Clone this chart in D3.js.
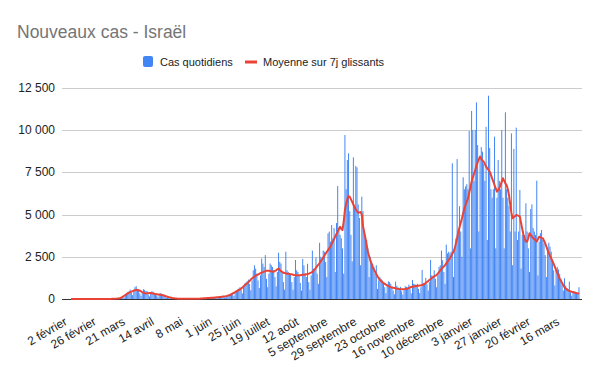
<!DOCTYPE html>
<html>
<head>
<meta charset="utf-8">
<script src="https://cdn.jsdelivr.net/npm/d3@7/dist/d3.min.js"></script>
<style>
    body { margin: 0; background: #fff; }
    #chart text { font-family: 'Liberation Sans', Arial, sans-serif; }
</style>
</head>
<body>
<div id="chart"></div>
<script>
// Nouveaux cas - Israël : cas quotidiens + moyenne sur 7 jours

// premier jour de la série (un point par jour)
const startDay = '2020-02-02';

// cas quotidiens, une ligne par semaine
const dailyCases = [
    0, 0, 0, 0, 0, 0, 0,
    0, 0, 0, 0, 0, 0, 0,
    0, 0, 0, 0, 0, 1, 0,
    0, 1, 0, 2, 1, 0, 3,
    3, 2, 1, 5, 6, 7, 8,
    10, 8, 6, 25, 40, 60, 80,
    130, 120, 90, 250, 330, 420, 450,
    560, 380, 230, 470, 700, 760, 600,
    560, 330, 190, 380, 580, 540, 470,
    470, 260, 150, 300, 460, 430, 360,
    330, 210, 120, 240, 340, 320, 290,
    220, 140, 70, 120, 160, 130, 110,
    70, 40, 20, 30, 35, 28, 22,
    18, 12, 6, 14, 20, 18, 17,
    20, 14, 8, 15, 22, 20, 20,
    28, 20, 12, 28, 40, 45, 50,
    60, 45, 30, 60, 85, 90, 95,
    110, 80, 50, 100, 140, 150, 145,
    170, 130, 80, 170, 230, 250, 270,
    330, 300, 180, 380, 500, 560, 620,
    700, 560, 330, 700, 920, 980, 1050,
    1150, 900, 520, 1100, 1700, 2000, 1800,
    1500, 1100, 650, 1400, 2400, 2100, 1900,
    2600, 1200, 700, 1500, 2100, 2000, 1900,
    1700, 1300, 750, 1600, 2740, 2200, 2100,
    1600, 1000, 550, 2800, 1700, 1600, 1500,
    1500, 1000, 550, 1300, 2310, 1700, 1600,
    1400, 950, 500, 2370, 1990, 1500, 1300,
    2090, 1000, 550, 1400, 2870, 1800, 1700,
    2460, 1500, 900, 3330, 2500, 2400, 2870,
    2800, 2200, 1300, 3890, 3990, 3400, 4380,
    3600, 4200, 1600, 4500, 6690, 4100, 3800,
    3600, 3000, 1500, 9716, 6500, 8230, 8630,
    5200, 3800, 2230, 8390, 5500, 7880, 7800,
    5600, 4800, 2000, 6060, 5200, 4000, 3690,
    3500, 3010, 1300, 2500, 2230, 2100, 1900,
    1500, 2000, 600, 1100, 1300, 1200, 1100,
    1000, 700, 350, 810, 1050, 1000, 900,
    750, 500, 280, 1030, 780, 700, 650,
    720, 460, 260, 530, 760, 720, 680,
    850, 580, 330, 1130, 900, 880, 820,
    900, 600, 350, 700, 1720, 950, 900,
    1250, 880, 500, 1000, 2310, 1400, 1300,
    1700, 1200, 700, 1400, 1900, 2000, 2870,
    2300, 1600, 900, 3220, 2700, 2800, 2700,
    2800, 8040, 1300, 3000, 3600, 8290, 3800,
    5500, 4000, 2500, 7210, 6500, 6670, 6800,
    6500, 9950, 3000, 11140, 10010, 7000, 10010,
    11650, 9120, 4000, 8500, 9000, 8730, 8000,
    7000, 10200, 3500, 12045, 8950, 6500, 6000,
    6500, 9620, 3000, 6000, 8230, 7000, 6500,
    10010, 6000, 3000, 11060, 6500, 6000, 5500,
    4000, 9810, 2000, 8890, 4000, 10150, 3500,
    4000, 6460, 1800, 3800, 4000, 3800, 5670,
    4000, 3000, 1600, 5330, 5610, 4200, 4000,
    3800, 7010, 1400, 3400, 3900, 4090, 3500,
    3300, 2600, 1300, 3000, 3330, 3100, 2800,
    2300, 1700, 800, 1720, 1900, 1750, 1500,
    1200, 850, 500, 1230, 800, 650, 600,
    1030, 400, 200, 380, 450, 420, 400,
    350, 700
];

// moyenne sur 7 jours glissants, même découpage
const avg7 = [
    0, 0, 0, 0, 0, 0, 0,
    0, 0, 0, 0, 0, 0, 0,
    0, 0, 0, 0, 0, 0, 1,
    1, 1, 1, 1, 1, 1, 2,
    2, 3, 3, 4, 5, 6, 8,
    10, 13, 18, 25, 35, 48, 65,
    100, 140, 190, 240, 290, 330, 370,
    410, 440, 470, 500, 520, 530, 535,
    520, 490, 450, 410, 380, 350, 330,
    335, 345, 360, 355, 340, 320, 305,
    290, 280, 270, 260, 250, 240, 230,
    205, 180, 155, 130, 110, 95, 80,
    60, 50, 40, 32, 26, 22, 20,
    18, 17, 16, 15, 15, 14, 15,
    15, 16, 16, 17, 18, 18, 19,
    20, 22, 25, 30, 35, 40, 45,
    50, 55, 60, 65, 70, 75, 80,
    90, 95, 100, 105, 115, 125, 135,
    145, 155, 165, 180, 200, 220, 250,
    290, 330, 370, 410, 450, 490, 530,
    570, 620, 680, 750, 810, 870, 930,
    1000, 1070, 1150, 1220, 1280, 1330, 1380,
    1420, 1450, 1490, 1530, 1560, 1590, 1620,
    1650, 1670, 1680, 1670, 1650, 1640, 1620,
    1630, 1660, 1700, 1760, 1800, 1720, 1650,
    1600, 1560, 1540, 1520, 1500, 1490, 1480,
    1470, 1460, 1440, 1420, 1410, 1400, 1400,
    1400, 1410, 1420, 1430, 1440, 1450, 1460,
    1480, 1500, 1530, 1560, 1600, 1680, 1760,
    1850, 1950, 2040, 2130, 2240, 2340, 2450,
    2560, 2680, 2800, 2900, 3000, 3100, 3250,
    3400, 3550, 3700, 3850, 4000, 4150, 4280,
    4150, 4080, 4600, 5270, 5650, 5900, 6100,
    6050, 5900, 5750, 5600, 5450, 5300, 5200,
    5100, 5130, 5150, 5000, 4300, 3950, 3600,
    3200, 2800, 2550, 2300, 2100, 1900, 1750,
    1620, 1480, 1350, 1230, 1120, 1060, 1000,
    950, 900, 850, 810, 770, 730, 700,
    680, 660, 650, 630, 610, 600, 590,
    585, 580, 580, 585, 590, 600, 620,
    650, 680, 710, 730, 745, 760, 770,
    780, 790, 800, 810, 830, 860, 900,
    950, 1010, 1060, 1120, 1180, 1240, 1300,
    1340, 1380, 1420, 1500, 1600, 1700, 1780,
    1860, 1930, 2010, 2110, 2210, 2310, 2410,
    2540, 2680, 2800, 3000, 3300, 3600, 3990,
    4250, 4520, 4780, 5070, 5370, 5570, 5770,
    5960, 6280, 6620, 6950, 7200, 7420, 7640,
    7900, 8100, 8280, 8430, 8300, 8200, 8130,
    8000, 7840, 7740, 7640, 7540, 7350, 7150,
    6950, 6750, 6550, 6360, 6450, 6560, 6750,
    6950, 7150, 7000, 6850, 6750, 6500, 6160,
    5600, 5100, 4780, 4850, 4900, 4980, 4950,
    4920, 4880, 4500, 4150, 3790, 3600, 3400,
    3400, 3600, 3890, 3800, 3700, 3600, 3550,
    3480, 3400, 3550, 3690, 3650, 3620, 3600,
    3450, 3300, 3100, 2900, 2720, 2550, 2400,
    2250, 2080, 1900, 1720, 1550, 1380, 1200,
    1080, 950, 820, 700, 620, 560, 500,
    480, 455, 430, 410, 390, 370, 350,
    330, 320
];

// graduations de l'axe des x (tous les 24 jours)
const xTickDates = ['2020-02-02', '2020-02-26', '2020-03-21', '2020-04-14', '2020-05-08', '2020-06-01',
    '2020-06-25', '2020-07-19', '2020-08-12', '2020-09-05', '2020-09-29', '2020-10-23',
    '2020-11-16', '2020-12-10', '2021-01-03', '2021-01-27', '2021-02-20', '2021-03-16'];
const xTickLabels = ['2 février', '26 février', '21 mars', '14 avril', '8 mai', '1 juin',
    '25 juin', '19 juillet', '12 août', '5 septembre', '29 septembre', '23 octobre',
    '16 novembre', '10 décembre', '3 janvier', '27 janvier', '20 février', '16 mars'];

// graduations de l'axe des y
const yTicks = [0, 2500, 5000, 7500, 10000, 12500];
const yTickLabels = ['0', '2 500', '5 000', '7 500', '10 000', '12 500'];

const seriesNames = ['Cas quotidiens', 'Moyenne sur 7j glissants'];

(function () {
    'use strict';

    const width = 600;
    const height = 371;
    const plot = { left: 62, right: 582, top: 88, bottom: 299 };

    const BLUE = '#4285f4';
    const RED = '#ea4335';

    const svg = d3.select('#chart').append('svg').attr('width', width).attr('height', height);

    const parseDay = d3.utcParse('%Y-%m-%d');
    const day0 = parseDay(startDay);

    const data = dailyCases.map(function (v, i) {
        return { date: d3.utcDay.offset(day0, i), cases: v, avg: avg7[i] };
    });

    // échelle du temps : une demi-semaine de marge avant le début
    const x = d3.scaleUtc()
        .domain([d3.utcHour.offset(day0, -180), d3.utcHour.offset(d3.utcDay.offset(day0, 423), 12)])
        .range([plot.left, plot.right]);

    const y = d3.scaleLinear().domain([0, 12500]).range([plot.bottom, plot.top]);

    const pxPerDay = x(d3.utcDay.offset(day0, 1)) - x(day0);
    const barW = pxPerDay * 0.82;

    // titre
    svg.append('text').attr('x', 17).attr('y', 38)
        .style('font-size', '17.5px').style('fill', '#757575')
        .text('Nouveaux cas - Israël');

    // légende
    const legend = svg.append('g').attr('class', 'legend');
    legend.append('rect').attr('x', 143).attr('y', 56).attr('width', 10).attr('height', 11)
        .attr('rx', 2).style('fill', BLUE);
    legend.append('text').attr('x', 160).attr('y', 66)
        .style('font-size', '11px').style('fill', '#222').text(seriesNames[0]);
    legend.append('line').attr('x1', 245).attr('x2', 257).attr('y1', 62).attr('y2', 62)
        .style('stroke', RED).style('stroke-width', 3);
    legend.append('text').attr('x', 263).attr('y', 66)
        .style('font-size', '11px').style('fill', '#222').text(seriesNames[1]);

    // grille horizontale
    svg.append('g').attr('class', 'grid').selectAll('line')
        .data(yTicks.filter(function (t) { return t > 0; }))
        .enter().append('line')
        .attr('x1', plot.left).attr('x2', plot.right)
        .attr('y1', function (t) { return Math.round(y(t)) + 0.5; })
        .attr('y2', function (t) { return Math.round(y(t)) + 0.5; })
        .style('stroke', '#cccccc').style('stroke-width', 1);

    // étiquettes de l'axe des y
    svg.append('g').attr('class', 'y-labels').selectAll('text')
        .data(yTicks)
        .enter().append('text')
        .attr('x', 55)
        .attr('y', function (t) { return y(t) + 4; })
        .attr('text-anchor', 'end')
        .style('font-size', '12px').style('fill', '#222')
        .text(function (t, i) { return yTickLabels[i]; });

    // barres des cas quotidiens
    svg.append('g').attr('class', 'bars').selectAll('rect')
        .data(data)
        .enter().append('rect')
        .attr('x', function (d) { return x(d.date) - barW / 2; })
        .attr('width', barW)
        .attr('y', function (d) { return y(d.cases); })
        .attr('height', function (d) { return y(0) - y(d.cases); })
        .style('fill', BLUE);

    // ligne de base
    svg.append('line').attr('x1', plot.left).attr('x2', plot.right)
        .attr('y1', Math.round(y(0)) + 0.5).attr('y2', Math.round(y(0)) + 0.5)
        .style('stroke', '#333').style('stroke-width', 1);

    // moyenne glissante
    const line = d3.line()
        .x(function (d) { return x(d.date); })
        .y(function (d) { return y(d.avg); });

    svg.append('path').datum(data)
        .attr('d', line)
        .style('fill', 'none').style('stroke', RED)
        .style('stroke-width', 2).style('stroke-linejoin', 'round');

    // étiquettes de l'axe des x, inclinées
    svg.append('g').attr('class', 'x-labels').selectAll('text')
        .data(xTickDates)
        .enter().append('text')
        .attr('transform', function (s) {
            return 'translate(' + (x(parseDay(s)) - 3) + ',324) rotate(-30)';
        })
        .attr('text-anchor', 'end')
        .style('font-size', '12px').style('fill', '#222')
        .text(function (s, i) { return xTickLabels[i]; });
}());
</script>
</body>
</html>
